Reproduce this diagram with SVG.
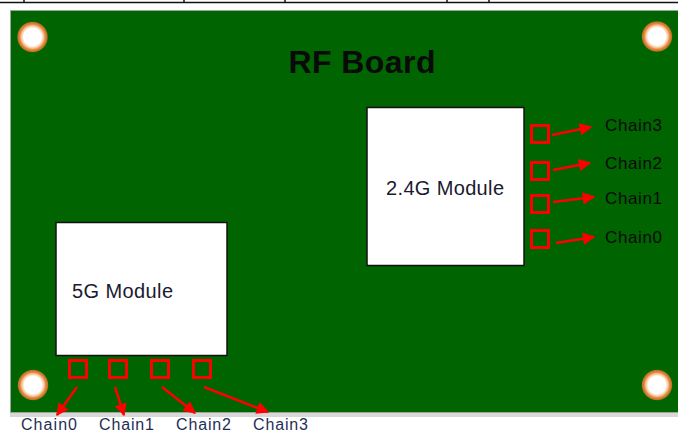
<svg xmlns="http://www.w3.org/2000/svg" width="678" height="433" viewBox="0 0 678 433">
<defs>
<radialGradient id="hole" cx="0.5" cy="0.5" r="0.5">
<stop offset="0" stop-color="#ffffff"/>
<stop offset="0.55" stop-color="#ffffff"/>
<stop offset="0.7" stop-color="#f6c49a"/>
<stop offset="0.8" stop-color="#e8873a"/>
<stop offset="0.92" stop-color="#c07028"/>
<stop offset="1" stop-color="#006400" stop-opacity="0"/>
</radialGradient>
<marker id="ah" viewBox="0 0 10 10" refX="9" refY="5" markerWidth="5" markerHeight="5" orient="auto" markerUnits="strokeWidth">
<path d="M0,0 L10,5 L0,10 Z" fill="#ff0000"/>
</marker>
</defs>
<style>
.pad{fill:none;stroke:#ff0000;stroke-width:3}
.arr{stroke:#ff0000;stroke-width:2.5;fill:none;marker-end:url(#ah)}
.mod{fill:#ffffff;stroke:#111111;stroke-width:1.5}
.mtxt{font-family:"Liberation Sans",Arial,sans-serif;font-size:20px;fill:#1a1a30}
.rlbl{font-family:"Liberation Sans",Arial,sans-serif;font-size:17px;fill:#0a0a0a}
.blbl{font-family:"Liberation Sans",Arial,sans-serif;font-size:16px;fill:#1f2f55}
</style>
<rect x="0" y="0" width="678" height="433" fill="#ffffff"/>
<g id="topline" stroke="#111" stroke-width="1.5">
<line x1="0" y1="2.5" x2="678" y2="2.5"/>
<line x1="24" y1="0" x2="24" y2="3"/>
<line x1="184" y1="0" x2="184" y2="3"/>
<line x1="285" y1="0" x2="285" y2="3"/>
<line x1="447" y1="0" x2="447" y2="3"/>
<line x1="489" y1="0" x2="489" y2="3"/>
</g>
<g id="board">
<rect x="10" y="413" width="670" height="4" fill="#d8d8d8"/>
<rect x="10.5" y="10.5" width="670" height="402" fill="#006400" stroke="#9aa89a" stroke-width="1"/>
<text x="362" y="73" text-anchor="middle" font-family="'Liberation Sans',Arial,sans-serif" font-size="32" font-weight="bold" fill="#0a0a0a" textLength="147">RF Board</text>
</g>
<g id="holes">
<circle cx="32.5" cy="37" r="16" fill="url(#hole)"/>
<circle cx="657" cy="36.5" r="16" fill="url(#hole)"/>
<circle cx="33" cy="385" r="16" fill="url(#hole)"/>
<circle cx="657" cy="385" r="16" fill="url(#hole)"/>
</g>
<g id="module24">
<rect class="mod" x="367" y="107.5" width="157" height="158"/>
<text class="mtxt" x="445" y="195" text-anchor="middle" textLength="118">2.4G Module</text>
</g>
<g id="module5">
<rect class="mod" x="56" y="222.5" width="171" height="133"/>
<text class="mtxt" x="72" y="298" textLength="101">5G Module</text>
</g>
<g id="pads">
<rect class="pad" x="531.5" y="125.5" width="17" height="17"/>
<rect class="pad" x="531.5" y="162.5" width="17" height="17"/>
<rect class="pad" x="531.5" y="195.5" width="17" height="17"/>
<rect class="pad" x="531.5" y="230.5" width="17" height="17"/>
<rect class="pad" x="69.5" y="360.5" width="17" height="17"/>
<rect class="pad" x="109.5" y="360.5" width="17" height="17"/>
<rect class="pad" x="151.5" y="360.5" width="17" height="17"/>
<rect class="pad" x="193.5" y="360.5" width="17" height="17"/>
</g>
<g id="connectors">
<line class="arr" x1="552" y1="135" x2="591" y2="127"/>
<line class="arr" x1="553" y1="170" x2="590" y2="163"/>
<line class="arr" x1="553" y1="202" x2="594" y2="197"/>
<line class="arr" x1="556" y1="243" x2="594" y2="237"/>
<line class="arr" x1="77" y1="387" x2="57" y2="415"/>
<line class="arr" x1="115" y1="387" x2="124" y2="415"/>
<line class="arr" x1="162" y1="387" x2="195" y2="413"/>
<line class="arr" x1="204" y1="387" x2="268" y2="412"/>
</g>
<g id="labels">
<text class="rlbl" x="605" y="131" textLength="57">Chain3</text>
<text class="rlbl" x="605" y="169" textLength="57">Chain2</text>
<text class="rlbl" x="605" y="204" textLength="57">Chain1</text>
<text class="rlbl" x="605" y="243" textLength="57">Chain0</text>
<text class="blbl" x="21" y="429.5" textLength="56">Chain0</text>
<text class="blbl" x="99" y="429.5" textLength="55">Chain1</text>
<text class="blbl" x="176" y="429.5" textLength="55">Chain2</text>
<text class="blbl" x="253" y="429.5" textLength="55">Chain3</text>
</g>
</svg>
